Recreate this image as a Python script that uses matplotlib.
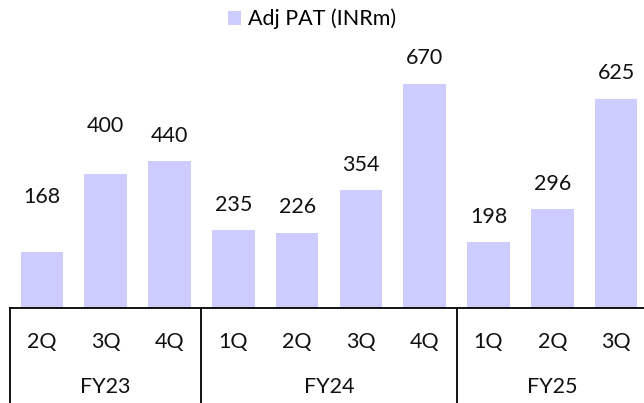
import matplotlib
matplotlib.use("Agg")
import matplotlib.pyplot as plt
import matplotlib.transforms as mtrans

plt.rcParams['font.family'] = ['Lato', 'DejaVu Sans']

quarters = ["2Q", "3Q", "4Q", "1Q", "2Q", "3Q", "4Q", "1Q", "2Q", "3Q"]
years = ["FY23", "FY24", "FY25"]
year_sizes = [3, 4, 3]
values = [168, 400, 440, 235, 226, 354, 670, 198, 296, 625]
series_name = "Adj PAT (INRm)"
bar_color = "#CCCCFF"

# label gap above bar top (pixels); two labels were moved manually in the source
label_gap_px = [55, 48, 25, 25, 26, 25, 26, 25, 25, 26]

W, H = 644, 403
PT = 0.72  # points per pixel at 100 dpi
FS = 15.5
fig = plt.figure(figsize=(W / 100, H / 100), dpi=100)
ax_bottom_px = 308
ax_top_px = 40
left_px, right_px = 10, 648
ax = fig.add_axes([left_px / W, (H - ax_bottom_px) / H,
                   (right_px - left_px) / W, (ax_bottom_px - ax_top_px) / H])

x = list(range(len(values)))
bars = ax.bar(x, values, width=0.67, color=bar_color, label=series_name, zorder=2)
ax.set_xlim(-0.5, len(values) - 0.5)
ax.set_ylim(0, (ax_bottom_px - ax_top_px) / 0.334)

for xi, v, g in zip(x, values, label_gap_px):
    ax.annotate(f"{v}", (xi, v), xytext=(0, g * PT), textcoords="offset points",
                ha="center", va="center", fontsize=FS, color="#111111")

for s in ["top", "right", "left"]:
    ax.spines[s].set_visible(False)
ax.spines["bottom"].set_linewidth(1.3)
ax.spines["bottom"].set_color("#000000")
ax.set_yticks([])
ax.set_xticks([])

trans = mtrans.blended_transform_factory(ax.transData, ax.transAxes)
bottom_frac = -(H - ax_bottom_px) / (ax_bottom_px - ax_top_px) - 0.05

# quarter labels
for xi, q in zip(x, quarters):
    ax.annotate(q, (xi, 0), xycoords=trans, xytext=(0, -34 * PT),
                textcoords="offset points", ha="center", va="center", fontsize=FS,
                color="#111111")

# group dividers and year labels
start = 0
bounds = [-0.5]
for yname, n in zip(years, year_sizes):
    center = start + (n - 1) / 2
    ax.annotate(yname, (center, 0), xycoords=trans, xytext=(0, -79 * PT),
                textcoords="offset points", ha="center", va="center", fontsize=FS,
                color="#111111")
    start += n
    bounds.append(start - 0.5)
for b in bounds[:-1]:
    ax.plot([b, b], [0, bottom_frac], transform=trans, color="black",
            linewidth=1.3, clip_on=False)

leg = fig.legend(handles=[bars], labels=[series_name], loc="center left",
                 bbox_to_anchor=(228 / W, 1 - 19 / H), frameon=False,
                 fontsize=FS, handlelength=0.6, handleheight=0.6, handletextpad=0.35,
                 borderpad=0, borderaxespad=0)

fig.savefig("out.png", dpi=100)
